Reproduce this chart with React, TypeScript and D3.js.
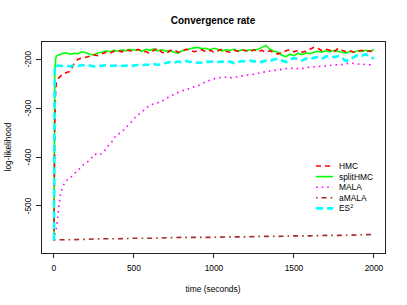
import React from 'react';
import * as d3 from 'd3';

// time grid (seconds) for the three fast samplers
const tFine = [
  0, 5, 10, 15, 25, 50, 75, 100, 125, 150, 175, 200, 225, 250, 275, 300, 325, 350, 375, 400,
  425, 450, 475, 500, 525, 550, 575, 600, 625, 650, 675, 700, 725, 750, 775, 800, 825, 850,
  875, 900, 925, 950, 975, 1000, 1025, 1050, 1075, 1100, 1125, 1150, 1175, 1200, 1225, 1250,
  1275, 1300, 1325, 1350, 1375, 1400, 1425, 1450, 1475, 1500, 1525, 1550, 1575, 1600, 1625,
  1650, 1675, 1700, 1725, 1750, 1775, 1800, 1825, 1850, 1875, 1900, 1925, 1950, 1975, 2000,
];

const hmc = [
  -570, -330, -270, -248, -240, -232, -228, -225, -210, -200, -198, -196, -194, -191, -193, -189, -186, -188, -184, -182,
  -185, -181, -183, -184, -180, -183, -185, -188, -182, -178, -186, -189, -183, -181, -186, -184, -180, -182,
  -185, -183, -181, -185, -182, -186, -183, -180, -184, -186, -182, -184, -181, -183, -185, -181,
  -184, -182, -186, -183, -187, -190, -186, -183, -181, -185, -182, -186, -184, -180, -176,
  -178, -183, -180, -182, -186, -178, -182, -185, -183, -186, -184, -182, -185, -183, -188,
];

const splitHmc = [
  -570, -230, -200, -194, -192, -189, -187, -190, -188, -189, -185, -187, -190, -192, -187, -186, -183, -185, -182, -184,
  -181, -183, -180, -182, -181, -184, -180, -182, -179, -183, -181, -184, -182, -186, -188, -183, -181, -179,
  -177, -176, -179, -178, -181, -178, -180, -183, -181, -182, -180, -184, -181, -183, -181, -182,
  -180, -176, -172, -180, -184, -186, -192, -195, -190, -193, -188, -191, -187, -189, -186,
  -184, -186, -183, -185, -182, -184, -186, -188, -184, -186, -183, -184, -182, -184, -181,
];

const es2 = [
  -570, -214, -213, -214, -213, -214, -213, -215, -213, -214, -212, -214, -213, -215, -213, -214, -212, -213, -214, -212,
  -214, -213, -215, -213, -212, -213, -211, -212, -210, -212, -209, -208, -206, -208, -205, -207, -204, -206,
  -205, -208, -207, -205, -206, -204, -206, -205, -207, -205, -208, -206, -204, -205, -203, -205,
  -204, -206, -203, -204, -201, -199, -203, -206, -200, -198, -200, -203, -199, -201, -197,
  -196, -199, -195, -193, -196, -194, -198, -204, -200, -196, -191, -193, -190, -195, -199,
];

const tMala = [
  0, 5, 10, 17, 28, 40, 50, 70, 100, 140, 185, 225, 255, 280, 310, 330, 360, 390, 420, 450,
  480, 510, 540, 570, 600, 640, 680, 710, 750, 790, 830, 870, 910, 950, 990, 1030, 1070,
  1110, 1150, 1200, 1250, 1300, 1340, 1380, 1420, 1460, 1500, 1540, 1580, 1620, 1660, 1700,
  1750, 1800, 1850, 1900, 1950, 1990,
];
const mala = [
  -570, -560, -552, -542, -508, -478, -465, -450, -443, -430, -416, -406, -394, -396, -391, -380, -370, -355, -350, -340,
  -330, -318, -310, -302, -294, -290, -285, -279, -272, -266, -262, -257, -253, -246, -241, -238, -237,
  -238, -236, -233, -231, -227, -225, -223, -221, -219, -219, -220, -217, -216, -215, -214,
  -212, -211, -208, -210, -211, -212,
];

const tAmala = [0, 100, 200, 300, 400, 500, 600, 700, 800, 900, 1000, 1100, 1200, 1300, 1400, 1500, 1600, 1700, 1800, 1900, 2000];
const amala = [-569, -569, -568, -567, -567, -566, -566, -565, -564, -564, -564, -563, -563, -562, -562, -561, -561, -560, -560, -559, -558];

const xTicks = [0, 500, 1000, 1500, 2000];
const yTicks = [-500, -400, -300, -200];

const FONT = '"Liberation Sans", Arial, sans-serif';

interface Series { name: string; t: number[]; v: number[]; color: string; width: number; dash: string; }

const series: Series[] = [
  { name: 'splitHMC', t: tFine, v: splitHmc, color: '#00ff00', width: 1.6, dash: '' },
  { name: 'HMC', t: tFine, v: hmc, color: '#ff0000', width: 1.6, dash: '5,4' },
  { name: 'MALA', t: tMala, v: mala, color: '#ff00ff', width: 1.6, dash: '1.6,4' },
  { name: 'aMALA', t: tAmala, v: amala, color: '#a52a2a', width: 1.6, dash: '1.6,4,5,4' },
  { name: 'ES2', t: tFine, v: es2, color: '#00ffff', width: 2.6, dash: '7,4' },
];

const legendOrder = ['HMC', 'splitHMC', 'MALA', 'aMALA', 'ES2'];

export default function App() {
  const W = 407, H = 305;
  const box = { left: 41, right: 385, top: 41, bottom: 253 };

  const x = d3.scaleLinear().domain([-81, 2069]).range([box.left, box.right]);
  const y = d3.scaleLinear().domain([-596, -163]).range([box.bottom, box.top]);

  const line = d3.line<[number, number]>().x(d => x(d[0])).y(d => y(d[1]));

  return (
    <svg width={W} height={H} style={{ position: 'absolute', left: 0, top: 0, background: '#fff' }} fontFamily={FONT}>
      <rect width={W} height={H} fill="#fff" />
      <text x={(box.left + box.right) / 2} y={24} textAnchor="middle" fontSize={10} fontWeight="bold">Convergence rate</text>

      <g>
        {series.map(s => (
          <path key={s.name} d={line(s.t.map((t, i) => [t, s.v[i]] as [number, number])) || ''}
            fill="none" stroke={s.color} strokeWidth={s.width} strokeDasharray={s.dash || undefined} />
        ))}
      </g>

      <rect x={box.left} y={box.top} width={box.right - box.left} height={box.bottom - box.top}
        fill="none" stroke="#222" strokeWidth={1} shapeRendering="crispEdges" />

      {/* x axis */}
      <g fontSize={8.4} shapeRendering="crispEdges">
        <line x1={x(xTicks[0])} x2={x(xTicks[xTicks.length - 1])} y1={box.bottom} y2={box.bottom} stroke="#222" />
        {xTicks.map(t => (
          <g key={t}>
            <line x1={x(t)} x2={x(t)} y1={box.bottom} y2={box.bottom + 5} stroke="#222" />
            <text x={x(t)} y={box.bottom + 18} textAnchor="middle">{t}</text>
          </g>
        ))}
      </g>
      <text x={(box.left + box.right) / 2} y={292} textAnchor="middle" fontSize={8.4}>time (seconds)</text>

      {/* y axis */}
      <g fontSize={8.4} shapeRendering="crispEdges">
        {yTicks.map(t => (
          <g key={t}>
            <line x1={box.left - 5} x2={box.left} y1={y(t)} y2={y(t)} stroke="#222" />
            <text transform={`translate(${box.left - 10},${y(t)}) rotate(-90)`} textAnchor="middle">{t}</text>
          </g>
        ))}
      </g>
      <text transform={`translate(11,${(box.top + box.bottom) / 2}) rotate(-90)`} textAnchor="middle" fontSize={8.4}>log-likelihood</text>

      {/* legend */}
      <g fontSize={8.4}>
        {legendOrder.map((name, i) => {
          const s = series.find(d => d.name === name)!;
          const ly = 166 + i * 10.6;
          return (
            <g key={name}>
              <line x1={316} x2={333} y1={ly} y2={ly} stroke={s.color} strokeWidth={s.width} strokeDasharray={s.dash || undefined} />
              <text x={339} y={ly + 3}>
                {name === 'ES2' ? (<>ES<tspan fontSize={5.5} dy={-3.5}>2</tspan></>) : name}
              </text>
            </g>
          );
        })}
      </g>
    </svg>
  );
}
